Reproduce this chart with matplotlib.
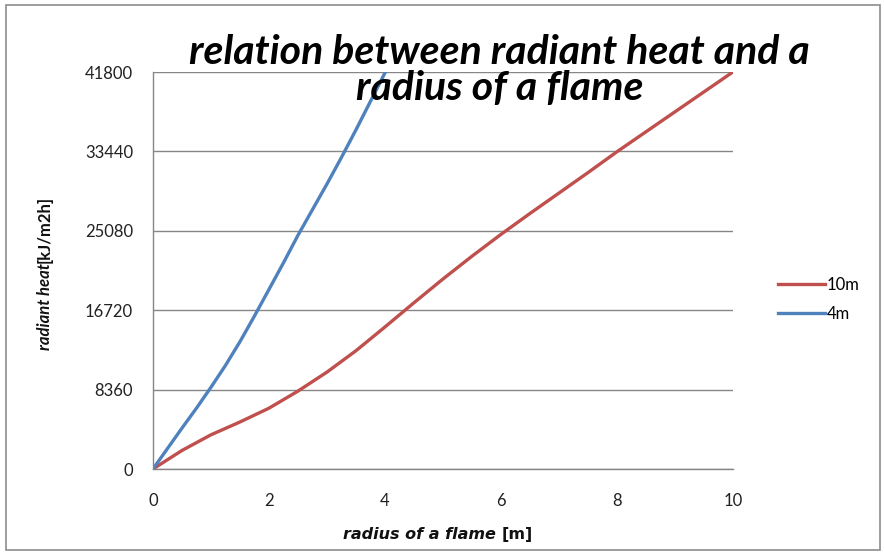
import numpy as np
import matplotlib
matplotlib.use("Agg")
import matplotlib.pyplot as plt
from matplotlib.patches import Rectangle

# values
r_10m = [0, 0.5, 1.0, 1.5, 2.0, 2.5, 3.0, 3.5, 4.0, 4.5, 5.0, 5.5, 6.0,
         6.5, 7.0, 7.5, 8.0, 8.5, 9.0, 9.5, 10.0]
q_10m = [0, 1950, 3600, 4950, 6400, 8200, 10200, 12450, 14950, 17500, 20000, 22400, 24700,
         26900, 29050, 31200, 33400, 35500, 37600, 39700, 41800]

r_4m = [0, 0.25, 0.5, 0.75, 1.0, 1.25, 1.5, 1.75, 2.0, 2.25, 2.5, 2.75, 3.0,
        3.25, 3.5, 3.75, 4.0]
q_4m = [0, 2150, 4300, 6400, 8600, 10900, 13400, 16100, 18900, 21700, 24600, 27300, 30000,
        32800, 35700, 38700, 41700]

y_ticks = [0, 8360, 16720, 25080, 33440, 41800]
x_ticks = [0, 2, 4, 6, 8, 10]

RED = "#C0504D"
BLUE = "#4F81BD"
GRID = "#868686"

plt.rcParams['font.family'] = ['Lato', 'DejaVu Sans']

fig = plt.figure(figsize=(8.84, 5.54), dpi=100)
fig.patches.append(Rectangle((0.007, 0.007), 0.988, 0.984, transform=fig.transFigure,
                             fill=False, edgecolor="#8c8c8c", linewidth=1.2))

ax = fig.add_axes([0.173, 0.1534, 0.656, 0.7166])
l1, = ax.plot(r_10m, q_10m, color=RED, linewidth=2.4, label="10m")
l2, = ax.plot(r_4m, q_4m, color=BLUE, linewidth=2.4, label="4m")

ax.set_xlim(0, 10)
ax.set_ylim(0, 41800)
ax.set_xticks(x_ticks)
ax.set_yticks(y_ticks)
ax.set_xticklabels([str(v) for v in x_ticks], fontsize=12, color="#222222")
ax.set_yticklabels([str(v) for v in y_ticks], fontsize=12, color="#222222")
ax.tick_params(axis="x", length=0, pad=17)
ax.tick_params(axis="y", length=0, pad=14.4)
ax.grid(axis="y", color=GRID, linewidth=1)
ax.set_axisbelow(True)
for s in ["top", "right"]:
    ax.spines[s].set_visible(False)
for s in ["left", "bottom"]:
    ax.spines[s].set_color(GRID)
    ax.spines[s].set_linewidth(1)

# x axis title: italic words followed by bold unit
xl = fig.text(0.388, 0.036, "radius of a flame", ha="left", va="center",
              fontsize=11.5, style="italic", fontweight="bold", family="DejaVu Sans",
              color="#111111")
ax.annotate("[m]", xy=(1, 0.5), xycoords=xl, xytext=(4, 0), textcoords="offset points",
            ha="left", va="center", fontsize=11.5, fontweight="bold",
            family="DejaVu Sans", color="#111111")

# y axis title
yl = fig.text(0.051, 0.368, "radiant heat", rotation=90, ha="center", va="bottom",
              fontsize=12, style="italic", fontweight="bold", color="#111111")
ax.annotate("[kJ/m2h]", xy=(0.5, 1), xycoords=yl, xytext=(0, 0.5), textcoords="offset points",
            rotation=90, ha="center", va="bottom", fontsize=12, fontweight="bold",
            color="#111111")

fig.text(0.565, 0.873, "relation between radiant heat and a\nradius of a flame",
         ha="center", va="center", fontsize=29.5, style="italic", fontweight="bold",
         linespacing=0.95)

fig.legend(handles=[l1, l2], loc="center left", bbox_to_anchor=(0.863, 0.4594),
           frameon=False, fontsize=12, handlelength=2.8, handletextpad=0.15,
           labelspacing=0.8)

fig.savefig("out.png", dpi=100)
